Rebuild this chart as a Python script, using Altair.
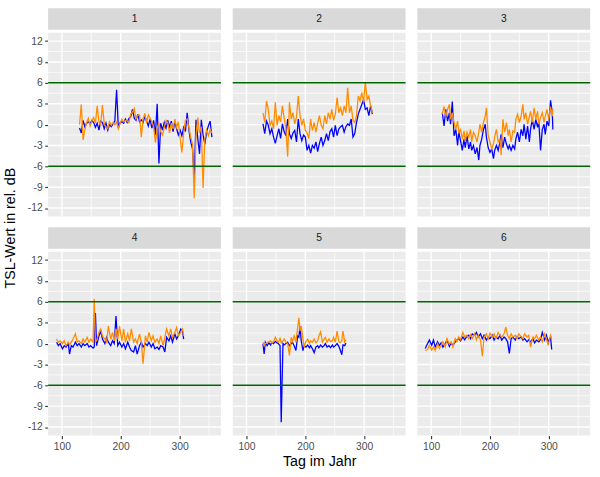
import altair as alt
import pandas as pd

FONT = "Liberation Sans"
PANEL_LABELS = ["1", "2", "3", "4", "5", "6"]

# ---------------- data ----------------
p1_day = list(range(130, 356, 3))
p1_blue = [-0.5, -1.2, 0.6, -0.3, 0.2, 0.4, 0.1, 0.6, 0.3, -0.4,
           0.2, -0.8, 0.5, 0.3, -0.6, 0.2, -0.8, 0.0, -0.3, 0.1,
           0.5, 5.0, -0.5, 0.3, 0.4, 0.2, 0.8, 0.3, 0.9, 1.1,
           2.2, 0.9, 0.6, 1.5, 0.4, 0.7, 0.3, 1.2, 0.5, -0.2,
           0.8, -0.5, 0.6, -1.5, 3.0, -5.6, 0.2, -0.8, 0.3, -0.5,
           0.6, -0.3, 0.5, -1.0, 0.4, -0.6, -1.5, -0.8, -1.6, -0.4,
           -1.0, 1.7, -0.8, -2.5, -3.5, -7.7, 0.7, -2.0, -4.2, 0.7,
           -1.5, -2.8, -1.0, -0.2, 0.5, -1.8]
p1_orange = [0.0, 2.9, -2.2, -0.8, 0.3, 0.9, -0.2, 0.5, 1.0, 0.2,
             2.7, 0.4, 0.0, 2.8, 0.1, -0.4, -0.6, 0.4, -0.1, 0.3,
             0.0, 0.4, -0.6, 0.2, 0.8, 0.4, 0.6, 0.5, 0.3, 1.5,
             1.8, 2.3, 0.8, 1.4, 1.4, -1.8, 0.8, 1.6, 0.2, 1.4,
             0.9, 0.4, -0.3, -2.6, -0.5, 0.2, -1.0, -1.5, -0.4, 0.6,
             0.3, -1.2, 0.2, -0.6, 0.8, -0.4, 0.4, -2.0, -4.0, -1.2,
             0.6, 0.8, -0.5, -1.8, -2.8, -10.6, -1.5, 1.0, -1.2, -0.3,
             -9.1, -2.0, -0.8, -1.6, -0.7, -1.2]

p2_day = list(range(128, 315, 3))
p2_blue = [0.1, -1.3, 0.5, -0.1, -1.3, -0.6, -1.8, -2.7, -1.6, -0.6,
           -2.0, 0.1, -1.0, -1.6, 0.8, -1.3, -2.0, -1.2, -0.85, -2.5,
           0.8, -1.3, -2.3, -1.5, -1.8, -3.7, -3.0, -4.1, -3.0, -3.4,
           -2.5, -3.9, -2.7, -1.8, -3.0, -2.3, -1.3, -2.3, -1.0, -0.6,
           -1.8, -0.1, -1.6, -0.6, -0.3, -0.1, -1.1, -0.3, 0.1, -0.1,
           0.8, -1.8, -1.3, 0.3, 1.5, 2.2, 2.9, 3.6, 2.2, 2.4,
           1.3, 2.7, 1.5]
p2_orange = [1.7, 0.3, 3.4, 2.2, -0.1, 0.5, -0.6, 3.2, -0.1, 1.3,
             0.4, 2.7, 1.0, -0.6, -4.6, 3.2, 0.8, 1.7, 0.1, 1.1,
             4.1, 1.3, -0.1, 0.8, -0.85, -1.2, -2.0, 0.8, -0.85, 0.3,
             -1.1, 0.2, 1.3, -0.1, -0.6, 1.3, 0.1, 1.7, 0.8, 2.2,
             0.6, 1.5, 3.9, 1.7, 2.4, 1.3, 2.7, 1.7, 5.3, 1.7,
             2.7, 0.6, 0.3, 1.3, 4.1, 3.4, 4.6, 3.2, 6.1, 3.6,
             4.1, 2.7, 1.7]

p3_day = [119, 122, 125, 128, 131, 133, 136, 139, 142, 145,
          147, 150, 153, 156, 158, 161, 164, 167, 169, 172,
          175, 178, 181, 183, 186, 189, 192, 194, 197, 200,
          203, 206, 208, 211, 214, 217, 219, 222, 225, 228,
          231, 233, 236, 239, 242, 244, 247, 250, 253, 256,
          258, 261, 264, 267, 269, 272, 275, 278, 281, 283,
          286, 289, 292, 294, 297, 300, 303, 306, 307]
p3_blue = [1.7, -0.2, 2.2, 0.5, 1.7, 0.05, 3.3, -1.6, -0.7, -3.0,
           -1.1, -2.3, -3.7, -2.1, -3.3, -1.6, -3.5, -2.5, -3.7, -3.0,
           -4.2, -3.3, -5.1, -3.0, -2.1, -0.7, 0.05, -1.8, -3.3, -4.0,
           -3.5, -4.9, -3.7, -3.0, -3.7, -2.5, -1.4, -3.3, -1.8, -2.8,
           -3.5, -3.0, -3.7, -3.0, -3.5, -2.1, -1.1, -2.5, -0.7, -1.6,
           0.05, -2.1, -0.2, -2.5, -0.7, 0.75, -0.7, 0.75, -0.4, 0.5,
           -3.7, -0.7, 0.05, -1.4, 0.5, -0.2, 3.5, 1.7, -0.7]
p3_orange = [1.5, 2.6, 1.2, 2.2, 2.9, 0.75, 1.7, 0.3, -0.7, 0.5,
             -1.1, -0.7, -2.1, -0.9, -2.5, -1.1, -1.8, -0.7, -2.5, -1.1,
             -1.6, -2.5, -1.1, 0.05, -1.1, 0.3, 1.2, 2.4, -1.6, -2.5,
             -3.5, -2.8, -1.8, -0.7, -2.5, -2.1, -4.4, 0.75, -1.1, 0.3,
             -1.6, -0.7, -2.5, -0.9, -1.1, 0.75, 1.5, 0.3, 1.2, 2.9,
             0.75, 1.7, 0.05, 1.2, 1.9, 0.3, 2.4, 0.75, 1.9, 0.05,
             1.0, 1.7, 0.3, 1.2, 2.2, 0.75, 2.6, 1.2, 2.2]

p4_day = [91, 94, 97, 101, 104, 107, 111, 113, 116, 119,
          123, 126, 129, 133, 136, 139, 143, 146, 149, 153,
          155, 157, 159, 163, 166, 169, 173, 176, 179, 183,
          186, 189, 192, 195, 198, 202, 205, 208, 212, 215,
          218, 222, 225, 228, 232, 235, 238, 242, 245, 248,
          252, 255, 258, 262, 265, 268, 272, 275, 278, 282,
          285, 288, 292, 295, 298, 302, 305, 307]
p4_blue = [0.2, -0.3, 0.0, -0.75, -0.3, -0.5, 0.0, -1.5, -0.3, -0.5,
           0.2, -0.3, 0.0, -0.5, 0.0, -0.3, 0.0, -0.5, -0.3, -0.65,
           -0.5, 4.4, -0.3, 1.1, 1.8, 0.65, 0.0, 0.9, 0.2, -0.3,
           0.4, 0.0, 3.95, -0.3, 0.2, -0.5, 0.0, -0.75, 0.2, -0.5,
           -1.0, -1.2, -0.3, -1.5, -0.3, 0.2, -0.5, 0.0, -0.3, 0.2,
           -0.5, 0.0, -0.75, -0.5, -0.85, -0.3, -0.5, -1.2, 0.9, 0.4,
           1.1, 0.2, 1.4, 0.65, 1.1, 2.1, 1.8, 0.65]
p4_orange = [0.65, 0.2, 0.4, 0.0, 0.4, -0.3, 0.2, -0.2, 0.2, 0.65,
             1.4, 0.2, 0.4, 0.0, 0.65, 0.2, 0.9, 0.2, 0.65, 0.2,
             6.4, 0.2, 0.4, 1.6, 2.1, 1.1, 0.65, 0.2, 2.5, 0.65,
             1.6, 0.4, 2.1, 0.65, 2.5, 0.4, 2.1, 0.2, 1.4, 0.4,
             2.1, 0.2, 0.65, 0.0, 1.4, 0.2, -2.9, 1.1, 0.2, 1.6,
             0.4, 1.1, 0.2, 0.65, 0.0, 1.1, -0.3, 0.9, 2.1, 1.1,
             2.1, 0.9, 1.6, 2.3, 1.1, 1.6, 2.1, 1.1]

p5_day = [128, 130, 132, 135, 138, 141, 143, 146, 149, 152,
          154, 157, 159, 162, 164, 167, 170, 173, 176, 178,
          181, 184, 187, 189, 191, 193, 196, 198, 201, 204,
          207, 209, 212, 215, 218, 221, 223, 226, 229, 232,
          234, 237, 240, 243, 246, 248, 251, 254, 257, 259,
          262, 264, 267, 269]
p5_blue = [0.0, -1.5, 0.2, -0.3, 0.1, -0.2, 0.2, 0.0, 0.3, 0.1,
           0.0, -0.3, -11.3, 0.0, -0.2, 0.0, 0.2, -0.3, 0.0, 0.2,
           -0.3, -1.0, 1.1, 0.9, 2.5, 0.4, -1.0, -0.3, -0.5, -0.2,
           -0.6, -0.3, -0.75, -1.3, -0.5, -0.3, -0.6, -0.2, -0.5, -0.3,
           0.0, -0.5, -0.3, -0.6, -0.2, -0.5, -0.3, 0.0, -0.4, -0.85,
           -1.6, -0.2, -0.3, 0.1]
p5_orange = [0.2, -0.3, 0.0, 0.1, 0.3, 0.4, 0.1, 0.3, 0.9, 0.4,
             0.2, 0.75, 0.1, 0.4, 0.65, 0.2, 0.0, -1.7, 0.9, 0.3,
             1.1, 0.2, 2.3, 3.7, 1.8, 2.5, 0.65, -0.5, 0.3, 0.65,
             0.0, 0.4, 0.2, 0.65, 0.1, 0.4, 1.1, 1.7, 0.2, 0.65,
             0.9, 0.2, 0.65, 0.3, 0.4, 0.9, 0.2, 1.8, 0.3, 0.1,
             0.4, 1.8, 0.2, 0.55]

p6_day = [90, 94, 97, 101, 104, 107, 111, 114, 117, 120,
          124, 127, 131, 134, 137, 141, 144, 147, 150, 154,
          157, 160, 164, 167, 170, 174, 177, 180, 184, 187,
          190, 194, 197, 200, 204, 207, 210, 214, 217, 220,
          224, 227, 230, 233, 236, 239, 243, 246, 249, 253,
          256, 259, 263, 266, 269, 273, 276, 279, 283, 286,
          289, 293, 296, 299, 303, 305]
p6_blue = [-0.7, 0.0, 0.5, -0.25, 0.5, -0.5, 0.25, -0.25, 0.1, -0.5,
           0.0, 0.5, -0.4, 0.1, -0.25, 0.25, 0.5, 0.7, 0.4, 0.95,
           0.55, 0.95, 1.2, 0.7, 1.4, 1.2, 1.6, 0.95, 1.4, 0.7,
           1.2, 0.5, 0.95, 0.7, 1.2, 0.5, 0.95, 0.7, 1.2, 0.5,
           0.95, 0.7, 0.25, -1.4, 0.7, 0.95, 0.5, 1.0, 0.7, 0.95,
           0.5, 0.7, 0.25, 0.55, 0.25, 0.7, 0.1, 0.5, 0.25, 0.55,
           1.6, 0.5, 1.2, 0.25, 0.95, -0.85]
p6_orange = [-1.0, -0.85, -0.25, -0.95, -0.5, -1.0, 0.0, -0.7, -0.25, 0.25,
             -0.5, 0.7, -0.1, 0.25, -0.5, 0.7, 0.25, 0.95, 0.55, 1.6,
             0.95, 1.2, 0.7, 1.3, 0.7, 1.4, 0.55, 1.2, 0.5, -1.8,
             0.95, 1.4, 0.7, 1.5, 0.95, 1.4, 0.7, 1.6, 1.2, 0.95,
             1.4, 2.35, 1.2, 0.7, 1.4, 0.95, 1.2, 0.7, 1.4, 1.0,
             0.7, 1.4, 0.95, 1.2, -0.5, 0.95, 0.7, 1.2, 0.5, 0.95,
             0.25, 1.4, 0.7, -0.25, 1.2, 0.7]

SERIES = [
    (p1_day, p1_blue, p1_orange),
    (p2_day, p2_blue, p2_orange),
    (p3_day, p3_blue, p3_orange),
    (p4_day, p4_blue, p4_orange),
    (p5_day, p5_blue, p5_orange),
    (p6_day, p6_blue, p6_orange),
]

X_TICKS = [100, 200, 300]
X_MINOR = [150, 250, 350]
Y_TICKS = [-12, -9, -6, -3, 0, 3, 6, 9, 12]
Y_MINOR = [-10.5, -7.5, -4.5, -1.5, 1.5, 4.5, 7.5, 10.5]
REF_LINES = [-6, 6]
X_DOMAIN = [76.6, 370.4]
Y_DOMAIN = [-13.2, 13.2]
X_TITLE = "Tag im Jahr"
Y_TITLE = "TSL-Wert in rel. dB"

# ---------------- styling ----------------
W, H, SH, GAP = 176, 187, 22, 8
TW = 15                      # width of the y-title column
ROWS_H = 2 * (SH + H) + GAP
BLUE, ORANGE, GREEN = "#0000FF", "#FF8C00", "#006400"
PANEL_BG, STRIP_BG = "#EBEBEB", "#D9D9D9"

xs = alt.Scale(domain=X_DOMAIN, nice=False, zero=False)
ys = alt.Scale(domain=Y_DOMAIN, nice=False, zero=False)

axis_common = dict(grid=False, domain=False, tickColor="#333333", tickSize=3.5,
                   tickWidth=1.1, labelColor="#4D4D4D", labelFontSize=10.5,
                   labelFont=FONT, labelPadding=2.5, labelExpr="'' + datum.value")


def panel(i, show_y, show_x, xtitle):
    days, blue, orange = SERIES[i]
    n = min(len(days), len(blue), len(orange))
    df_b = pd.DataFrame({"day": days[:n], "value": blue[:n]})
    df_o = pd.DataFrame({"day": days[:n], "value": orange[:n]})

    if show_x:
        if xtitle:
            xaxis = alt.Axis(values=X_TICKS, title=xtitle, titleFont=FONT,
                             titleFontSize=14.5, titleFontWeight="normal",
                             titleColor="black", titlePadding=3, **axis_common)
        else:
            xaxis = alt.Axis(values=X_TICKS, title=None, **axis_common)
    else:
        xaxis = None
    yaxis = alt.Axis(values=Y_TICKS, title=None, **axis_common) if show_y else None

    bg = alt.Chart(pd.DataFrame({"p": [PANEL_LABELS[i]]})).mark_rect(
        color=PANEL_BG).encode(x=alt.value(0), x2=alt.value(W),
                               y=alt.value(0), y2=alt.value(H))

    def gy(vals, width):
        return alt.Chart(pd.DataFrame({"value": vals})).mark_rule(
            color="white", strokeWidth=width).encode(
            y=alt.Y("value:Q", scale=ys, axis=yaxis))

    def gx(vals, width):
        return alt.Chart(pd.DataFrame({"day": vals})).mark_rule(
            color="white", strokeWidth=width).encode(
            x=alt.X("day:Q", scale=xs, axis=xaxis))

    lb = alt.Chart(df_b).mark_line(color=BLUE, strokeWidth=1.3).encode(
        x=alt.X("day:Q", scale=xs, axis=xaxis),
        y=alt.Y("value:Q", scale=ys, axis=yaxis),
    )
    lo = alt.Chart(df_o).mark_line(color=ORANGE, strokeWidth=1.3).encode(
        x=alt.X("day:Q", scale=xs, axis=xaxis),
        y=alt.Y("value:Q", scale=ys, axis=yaxis),
    )
    ref = alt.Chart(pd.DataFrame({"value": REF_LINES})).mark_rule(
        color=GREEN, strokeWidth=1.5).encode(y=alt.Y("value:Q", scale=ys, axis=yaxis))

    return alt.layer(
        bg,
        gy(Y_MINOR, 0.7), gx(X_MINOR, 0.7),
        gy(Y_TICKS, 1.4), gx(X_TICKS, 1.4),
        lb, lo, ref,
    ).properties(width=W, height=H)


def strip(label):
    d = pd.DataFrame({"label": [label]})
    bg = alt.Chart(d).mark_rect(color=STRIP_BG).encode(
        x=alt.value(0), x2=alt.value(W), y=alt.value(0), y2=alt.value(SH))
    tx = alt.Chart(d).mark_text(font=FONT, fontSize=10.5, color="#1A1A1A",
                                align="center", baseline="middle").encode(
        x=alt.value(W / 2), y=alt.value(SH / 2), text="label:N")
    return alt.layer(bg, tx).properties(width=W, height=SH)


rows = []
for r in range(2):
    cols = []
    for c in range(3):
        i = r * 3 + c
        cols.append(alt.vconcat(
            strip(PANEL_LABELS[i]),
            panel(i, show_y=(c == 0), show_x=(r == 1),
                  xtitle=X_TITLE if i == 4 else None),
            spacing=0))
    rows.append(alt.hconcat(*cols, spacing=GAP))

grid = alt.vconcat(*rows, spacing=GAP)

ytitle = alt.Chart(pd.DataFrame({"t": [Y_TITLE]})).mark_text(
    angle=270, font=FONT, fontSize=14.5, color="black",
    align="center", baseline="middle").encode(
    x=alt.value(TW / 2), y=alt.value(ROWS_H / 2 + 11), text="t:N"
).properties(width=TW, height=ROWS_H)

chart = alt.hconcat(ytitle, grid, spacing=7).properties(
    padding={"left": 3, "top": 3, "right": 8, "bottom": 4},
    background="white",
).configure(font=FONT).configure_view(stroke="transparent")

chart.save("out.html", embed_options={"renderer": "svg", "actions": False})
